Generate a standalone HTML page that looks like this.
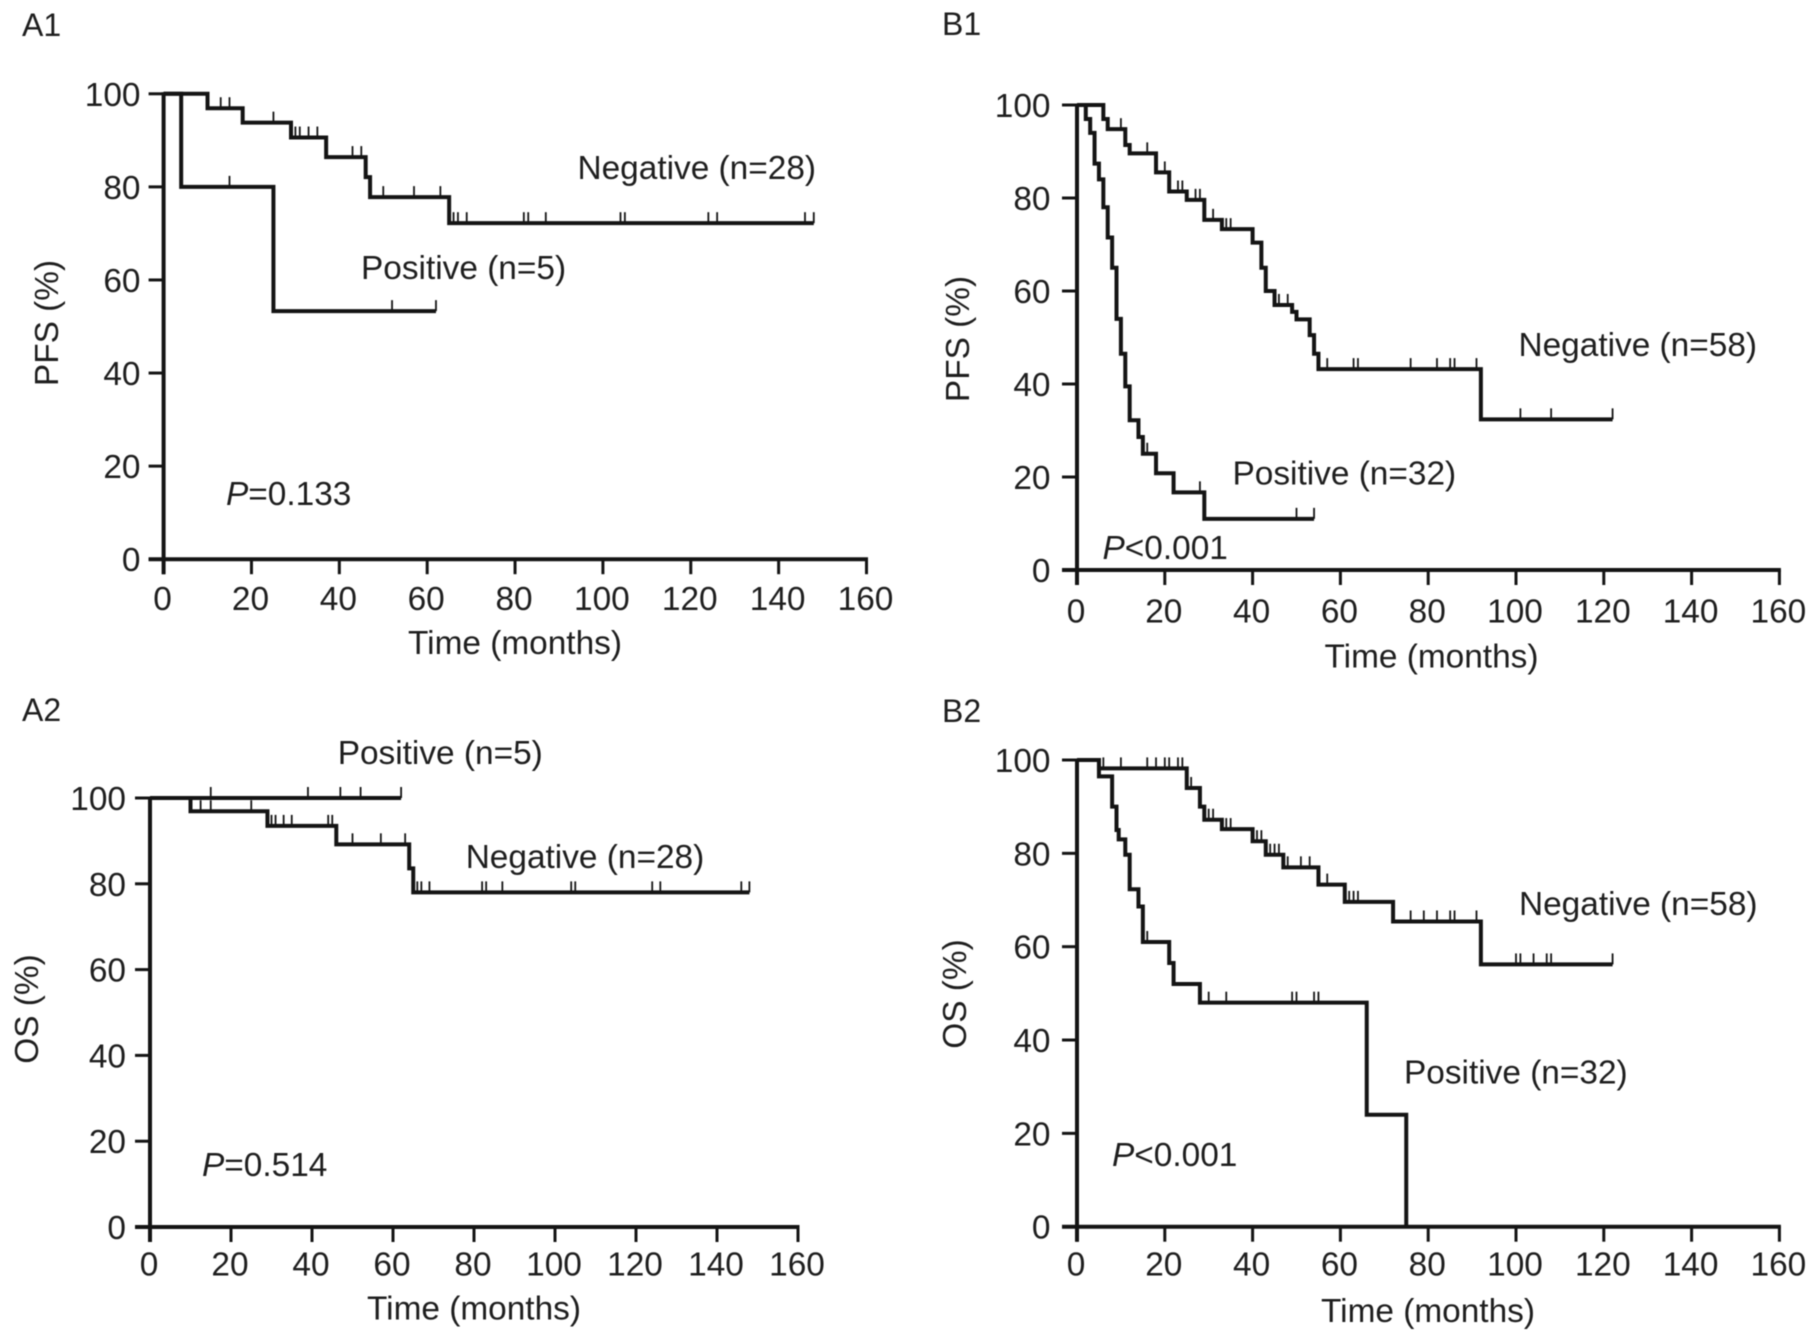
<!DOCTYPE html>
<html lang="en">
<head>
<meta charset="utf-8">
<title>Kaplan-Meier survival curves</title>
<style>
html,body{margin:0;padding:0;background:#fff;width:1816px;height:1341px;overflow:hidden}
svg{display:block;filter:blur(0.5px)}
text{font-family:"Liberation Sans",Arial,sans-serif;font-size:33.4px;fill:#1e1e1e}
</style>
</head>
<body>
<svg id="figure" width="1816" height="1341" viewBox="0 0 1816 1341" xmlns="http://www.w3.org/2000/svg"></svg>
<script>
// Shared axis data
const xTickValues = [0, 20, 40, 60, 80, 100, 120, 140, 160];
const yTickValues = [0, 20, 40, 60, 80, 100];
const xAxisTitle = 'Time (months)';

// A1 data
const a1NegTimes = [0, 10, 18, 29, 37, 46, 47, 65];
const a1NegSurv = [100, 96.9, 93.8, 90.6, 86.4, 82.1, 77.8, 72.2];
const a1NegEnd = 148;
const a1NegCensor = [13, 15, 25, 30, 31, 33, 35, 43, 45, 50, 57, 63, 66, 67, 69, 82, 83, 87, 104, 105, 124, 126, 146, 148];
const a1PosTimes = [0, 4, 25];
const a1PosSurv = [100, 80, 53.3];
const a1PosEnd = 62;
const a1PosCensor = [15, 52, 62];

// B1 data
const b1NegTimes = [0, 6, 7, 11, 12, 18, 21, 25, 29, 33, 40, 42, 43, 45, 49, 50, 53, 54, 55, 92];
const b1NegSurv = [100, 97, 94.8, 91.4, 89.6, 85.5, 81.4, 79.6, 75.3, 73.3, 70.4, 65, 60, 57, 55.5, 53.9, 50.5, 46.5, 43.2, 32.4];
const b1NegEnd = 122;
const b1NegCensor = [10, 16, 20, 23, 24, 27, 28, 31, 34, 35, 46, 48, 57, 63, 64, 76, 82, 85, 86, 91, 101, 108, 122];
const b1PosTimes = [0, 2, 3, 4, 5, 6, 7, 8, 9, 10, 11, 12, 14, 15, 18, 22, 29];
const b1PosSurv = [100, 97, 94, 87.4, 84, 78, 71.5, 65, 54, 46.5, 39.5, 32.2, 28.6, 25, 20.8, 16.7, 11];
const b1PosEnd = 54;
const b1PosCensor = [16, 28, 50, 54];

// A2 data
const a2NegTimes = [0, 10, 29, 46, 64, 65];
const a2NegSurv = [100, 96.9, 93.5, 89.2, 83.6, 78];
const a2NegEnd = 148;
const a2NegCensor = [12.5, 15, 25, 30, 31, 33, 35, 44, 45, 50, 57, 63, 66, 67, 69, 82, 83, 87, 104, 105, 124, 126, 146, 148];
const a2PosTimes = [0];
const a2PosSurv = [100];
const a2PosEnd = 62;
const a2PosCensor = [15, 39, 47, 52, 62];

// B2 data
const b2NegTimes = [0, 5, 25, 28, 29, 33, 40, 43, 47, 55, 61, 72, 92];
const b2NegSurv = [100, 98.2, 94, 90, 87.2, 85.2, 82.6, 79.7, 77, 73.3, 69.6, 65.4, 56.2];
const b2NegEnd = 122;
const b2NegCensor = [6, 10, 16, 18, 20, 21, 23, 24, 26, 30, 31, 34, 35, 41, 42, 44, 45, 46, 48, 51, 53, 57, 62, 63, 64, 76, 79, 82, 85, 86, 91, 100, 101, 104, 107, 108, 122];
const b2PosTimes = [0, 5, 8, 9, 9.5, 11, 12, 14, 15, 21, 22, 28, 66, 75];
const b2PosSurv = [100, 96.5, 90, 85, 83, 79.7, 72.3, 68.6, 61, 56.5, 52, 48, 24, 0];
const b2PosEnd = 75;
const b2PosCensor = [16, 30, 34, 49, 50, 54, 55];

const panels = [
  { id: 'a1', tag: 'A1', yTitle: 'PFS (%)', box: { x0: 163.6, x1: 866.5, y100: 93.8, y0: 559.2 },
    tagPos: [22, 36], yTickRight: 140.5, xTickBase: 610, xTitleX: 515, xTitleBase: 654, yTitlePos: [58, 323],
    negLabel: ['Negative (n=28)', 577.5, 179], posLabel: ['Positive (n=5)', 361, 279], pLabel: ['P', '=0.133', 226, 505],
    neg: { t: a1NegTimes, s: a1NegSurv, end: a1NegEnd, c: a1NegCensor }, pos: { t: a1PosTimes, s: a1PosSurv, end: a1PosEnd, c: a1PosCensor } },
  { id: 'b1', tag: 'B1', yTitle: 'PFS (%)', box: { x0: 1077, x1: 1779.4, y100: 105, y0: 570 },
    tagPos: [942, 35], yTickRight: 1050.5, xTickBase: 622.7, xTitleX: 1431.5, xTitleBase: 667.7, yTitlePos: [969, 339],
    negLabel: ['Negative (n=58)', 1518.5, 356], posLabel: ['Positive (n=32)', 1232.5, 484.5], pLabel: ['P', '<0.001', 1102.5, 559],
    neg: { t: b1NegTimes, s: b1NegSurv, end: b1NegEnd, c: b1NegCensor }, pos: { t: b1PosTimes, s: b1PosSurv, end: b1PosEnd, c: b1PosCensor } },
  { id: 'a2', tag: 'A2', yTitle: 'OS (%)', box: { x0: 150, x1: 798, y100: 798, y0: 1227 },
    tagPos: [22, 721], yTickRight: 126, xTickBase: 1275.7, xTitleX: 474, xTitleBase: 1319.7, yTitlePos: [38, 1009],
    negLabel: ['Negative (n=28)', 465.7, 868], posLabel: ['Positive (n=5)', 337.7, 764], pLabel: ['P', '=0.514', 202, 1176],
    neg: { t: a2NegTimes, s: a2NegSurv, end: a2NegEnd, c: a2NegCensor }, pos: { t: a2PosTimes, s: a2PosSurv, end: a2PosEnd, c: a2PosCensor } },
  { id: 'b2', tag: 'B2', yTitle: 'OS (%)', box: { x0: 1077, x1: 1779.4, y100: 760, y0: 1226.7 },
    tagPos: [942, 722], yTickRight: 1050.5, xTickBase: 1275.7, xTitleX: 1428, xTitleBase: 1322, yTitlePos: [966, 994],
    negLabel: ['Negative (n=58)', 1519, 915], posLabel: ['Positive (n=32)', 1404, 1083.5], pLabel: ['P', '<0.001', 1112, 1166],
    neg: { t: b2NegTimes, s: b2NegSurv, end: b2NegEnd, c: b2NegCensor }, pos: { t: b2PosTimes, s: b2PosSurv, end: b2PosEnd, c: b2PosCensor } }
];

const SVG_NS = 'http://www.w3.org/2000/svg';
const INK = '#141414';
const root = document.getElementById('figure');

function make(parent, tag, attrs, content) {
  const node = document.createElementNS(SVG_NS, tag);
  for (const k in attrs) node.setAttribute(k, attrs[k]);
  if (content !== undefined) node.textContent = content;
  parent.appendChild(node);
  return node;
}

function survivalAt(series, time) {
  let value = series.s[0];
  for (let i = 0; i < series.t.length; i++) {
    if (series.t[i] <= time) value = series.s[i];
  }
  return value;
}

function stepPath(series, xScale, yScale) {
  let d = 'M' + xScale(series.t[0]) + ' ' + yScale(series.s[0]);
  for (let i = 1; i < series.t.length; i++) {
    d += 'H' + xScale(series.t[i]) + 'V' + yScale(series.s[i]);
  }
  d += 'H' + xScale(series.end);
  return d;
}

function drawSeries(group, series, key, xScale, yScale) {
  const line = make(group, 'path', { d: stepPath(series, xScale, yScale), fill: 'none', stroke: INK, 'stroke-width': 4, 'stroke-linejoin': 'miter' });
  
  
  series.c.forEach(function (time) {
    const cy = yScale(survivalAt(series, time));
    const mark = make(group, 'line', { x1: xScale(time), x2: xScale(time), y1: cy, y2: cy - 11, stroke: INK, 'stroke-width': 1.8 });
    
    
  });
}

panels.forEach(function (p) {
  const xScale = function (v) { return p.box.x0 + (p.box.x1 - p.box.x0) * v / 160; };
  const yScale = function (v) { return p.box.y0 + (p.box.y100 - p.box.y0) * v / 100; };

  const g = make(root, 'g', {});
  
  

  const tagText = make(g, 'text', { x: p.tagPos[0], y: p.tagPos[1], style: 'font-size:32px' }, p.tag);
  
  

  const xAxis = make(g, 'line', { x1: xScale(0) - 15, x2: xScale(160) + 1.5, y1: yScale(0), y2: yScale(0), stroke: INK, 'stroke-width': 4 });
  
  
  const yAxis = make(g, 'line', { x1: xScale(0), x2: xScale(0), y1: yScale(100) - 1.5, y2: yScale(0) + 15, stroke: INK, 'stroke-width': 4 });
  
  

  xTickValues.forEach(function (v) {
    const tick = make(g, 'line', { x1: xScale(v), x2: xScale(v), y1: yScale(0), y2: yScale(0) + 15, stroke: INK, 'stroke-width': 3 });
    
    
    const label = make(g, 'text', { x: xScale(v) - 1, y: p.xTickBase, 'text-anchor': 'middle' }, String(v));
    
    
  });

  yTickValues.forEach(function (v) {
    const tick = make(g, 'line', { x1: xScale(0) - 15, x2: xScale(0), y1: yScale(v), y2: yScale(v), stroke: INK, 'stroke-width': 3 });
    
    
    const label = make(g, 'text', { x: p.yTickRight, y: yScale(v) + 12, 'text-anchor': 'end' }, String(v));
    
    
  });

  const xTitle = make(g, 'text', { x: p.xTitleX, y: p.xTitleBase, 'text-anchor': 'middle' }, xAxisTitle);
  
  

  const yTitle = make(g, 'text', { x: 0, y: 0, 'text-anchor': 'middle', transform: 'translate(' + p.yTitlePos[0] + ' ' + p.yTitlePos[1] + ') rotate(-90)' }, p.yTitle);
  
  

  drawSeries(g, p.neg, 'negative', xScale, yScale);
  drawSeries(g, p.pos, 'positive', xScale, yScale);

  const negText = make(g, 'text', { x: p.negLabel[1], y: p.negLabel[2] }, p.negLabel[0]);
  
  
  const posText = make(g, 'text', { x: p.posLabel[1], y: p.posLabel[2] }, p.posLabel[0]);
  
  

  const pText = make(g, 'text', { x: p.pLabel[2], y: p.pLabel[3] });
  
  
  make(pText, 'tspan', { 'font-style': 'italic' }, p.pLabel[0]);
  make(pText, 'tspan', {}, p.pLabel[1]);
});
</script>
</body>
</html>
